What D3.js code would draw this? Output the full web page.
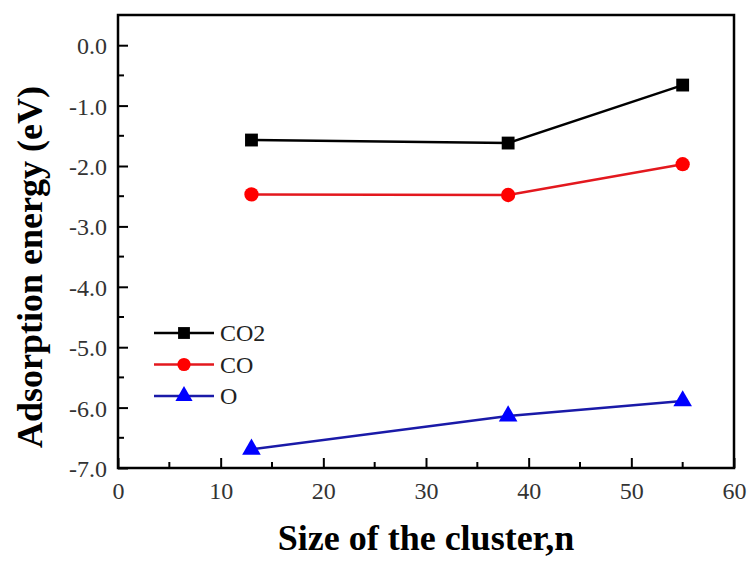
<!DOCTYPE html>
<html>
<head>
<meta charset="utf-8">
<script src="https://cdn.jsdelivr.net/npm/d3@7"></script>
<style>
  body { margin: 0; background: #fff; }
  svg text { font-family: "Liberation Serif", "Times New Roman", serif; }
</style>
</head>
<body>
<div id="chart"></div>
<script>
// Canvas size and margins
var svgWidth = 753;
var svgHeight = 563;
var margin = { top: 15, right: 19, bottom: 95, left: 118 };
var width = svgWidth - margin.left - margin.right;
var height = svgHeight - margin.top - margin.bottom;

// Data
var clusterSize = [13, 38, 55];
var co2Energy = [-1.57, -1.62, -0.66];
var coEnergy = [-2.47, -2.48, -1.97];
var oEnergy = [-6.69, -6.14, -5.89];
var seriesNames = ["CO2", "CO", "O"];
var xTicks = [0, 10, 20, 30, 40, 50, 60];
var yTicks = [0.0, -1.0, -2.0, -3.0, -4.0, -5.0, -6.0, -7.0];

var series = [
    { name: seriesNames[0], values: co2Energy, color: "#000000", symbol: d3.symbolSquare, size: 165 },
    { name: seriesNames[1], values: coEnergy, color: "#ff0000", symbol: d3.symbolCircle, size: 160 },
    { name: seriesNames[2], values: oEnergy, color: "#0000ff", symbol: d3.symbolTriangle, size: 150 }
];
var lineColors = ["#000000", "#e3181e", "#1a1aa8"];
var serif = "'Liberation Serif', 'Times New Roman', serif";

var svg = d3.select("#chart").append("svg").attr("width", svgWidth).attr("height", svgHeight);
var chartGroup = svg.append("g").attr("transform", `translate(${margin.left}, ${margin.top})`);

// Scales
var x = d3.scaleLinear().domain([0, 60]).range([0, width]);
var y = d3.scaleLinear().domain([-7, 0.5]).range([height, 0]);

// Minor ticks (inside)
var xMinor = d3.range(5, 60, 10);
var yMinor = d3.range(-6.5, 0.5, 1);

chartGroup.selectAll(".xminor").data(xMinor).enter().append("line")
    .attr("x1", d => x(d)).attr("x2", d => x(d))
    .attr("y1", height).attr("y2", height - 6)
    .attr("stroke", "#000").attr("stroke-width", 2);
chartGroup.selectAll(".yminor").data(yMinor).enter().append("line")
    .attr("x1", 0).attr("x2", 6)
    .attr("y1", d => y(d)).attr("y2", d => y(d))
    .attr("stroke", "#000").attr("stroke-width", 2);

// Axes (hyphen-minus like the original)
var fmt = d => d3.format(".1f")(d).replace("\u2212", "-");
var xAxis = chartGroup.append("g").attr("transform", `translate(0, ${height})`)
    .call(d3.axisBottom(x).tickValues(xTicks).tickSizeInner(-10).tickSizeOuter(0).tickPadding(15));
var yAxis = chartGroup.append("g")
    .call(d3.axisLeft(y).tickValues(yTicks).tickFormat(fmt).tickSizeInner(-10).tickSizeOuter(0).tickPadding(12));

[xAxis, yAxis].forEach(function (ax) {
    ax.attr("font-family", serif);
    ax.select(".domain").remove();
    ax.selectAll(".tick line").attr("stroke", "#000").attr("stroke-width", 2);
    ax.selectAll(".tick text").style("font-family", serif).style("font-size", "24px").attr("fill", "#333");
});
// labels stay outside even though the ticks point inward
xAxis.selectAll(".tick text").attr("y", 14);
yAxis.selectAll(".tick text").attr("x", -11).attr("dy", "0.35em");

// Frame
chartGroup.append("rect")
    .attr("x", 0).attr("y", 0).attr("width", width).attr("height", height)
    .attr("fill", "none").attr("stroke", "#000").attr("stroke-width", 2.5);

// Lines and markers
var line = d3.line().x((d, i) => x(clusterSize[i])).y(d => y(d));

series.forEach(function (s, k) {
    chartGroup.append("path")
        .datum(s.values)
        .attr("d", line)
        .attr("fill", "none")
        .attr("stroke", lineColors[k])
        .attr("stroke-width", 2.5);
    chartGroup.selectAll(".m" + k).data(s.values).enter().append("path")
        .attr("d", d3.symbol().type(s.symbol).size(s.size))
        .attr("transform", (d, i) => `translate(${x(clusterSize[i])}, ${y(d)})`)
        .attr("fill", s.color);
});

// Legend
var legend = chartGroup.append("g").attr("transform", "translate(36, 318)");
series.forEach(function (s, k) {
    var g = legend.append("g").attr("transform", `translate(0, ${k * 31.5})`);
    g.append("line").attr("x1", 0).attr("x2", 60).attr("y1", 0).attr("y2", 0)
        .attr("stroke", lineColors[k]).attr("stroke-width", 2.5);
    g.append("path").attr("d", d3.symbol().type(s.symbol).size(s.size * 0.85))
        .attr("transform", "translate(30, 0)").attr("fill", s.color);
    g.append("text").attr("x", 66).attr("y", 0).attr("dy", "0.35em")
        .style("font-family", serif)
        .style("font-size", "24px").attr("fill", "#222").text(s.name);
});

// Axis titles
svg.append("text")
    .attr("x", 426).attr("y", 550)
    .attr("text-anchor", "middle")
    .style("font-family", serif)
    .style("font-size", "36px").style("font-weight", "bold")
    .text("Size of the cluster,n");
svg.append("text")
    .attr("transform", "translate(42, 267) rotate(-90)")
    .attr("text-anchor", "middle")
    .style("font-family", serif)
    .style("font-size", "36px").style("font-weight", "bold")
    .text("Adsorption energy (eV)");
</script>
</body>
</html>
